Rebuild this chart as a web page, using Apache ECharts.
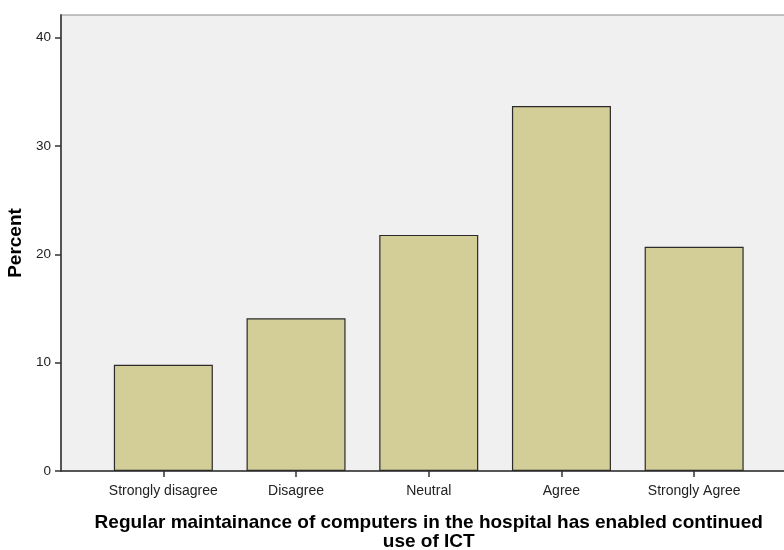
<!DOCTYPE html>
<html>
<head>
<meta charset="utf-8">
<script src="https://cdn.jsdelivr.net/npm/echarts@6/dist/echarts.min.js"></script>
<style>
html,body{margin:0;padding:0;background:#fff;}
#chart{width:784px;height:550px;}
</style>
</head>
<body>
<div id="chart"></div>
<script>
const categories = ["Strongly disagree", "Disagree", "Neutral", "Agree", "Strongly Agree"];
const percentValues = [9.8, 14.1, 21.8, 33.7, 20.7];
const yTicks = [0, 10, 20, 30, 40];
const xTitle = "Regular maintainance of computers in the hospital has enabled continued\nuse of ICT";
const yTitle = "Percent";

const font = "'Liberation Sans', Arial, sans-serif";
const yMax = 42.1;

const chart = echarts.init(document.getElementById('chart'), null, {renderer: 'canvas'});
chart.setOption({
  backgroundColor: '#ffffff',
  animation: false,
  grid: [
    {left: 61, right: -10, top: 15, bottom: 79, containLabel: false, outerBoundsMode: 'none',
     show: true, backgroundColor: '#f0f0f0', borderColor: '#8a8a8a', borderWidth: 1},
    {left: 97, width: 663.5, top: 15, bottom: 79, containLabel: false, outerBoundsMode: 'none'}
  ],
  xAxis: [
    {gridIndex: 0, type: 'value', min: 0, max: 1,
     axisLine: {show: true, onZero: false, lineStyle: {color: '#333', width: 1.5}},
     axisTick: {show: false}, axisLabel: {show: false}, splitLine: {show: false}},
    {gridIndex: 1, type: 'category', data: categories,
     axisLine: {show: false},
     axisTick: {show: true, alignWithLabel: true, interval: 0, length: 6, lineStyle: {color: '#333', width: 1.5}},
     axisLabel: {fontFamily: font, fontSize: 14, color: '#222', margin: 13, interval: 0, hideOverlap: false},
     name: xTitle, nameLocation: 'middle', nameGap: 42,
     nameTextStyle: {fontFamily: font, fontSize: 19, fontWeight: 'bold', color: '#000', lineHeight: 19}}
  ],
  yAxis: [
    {gridIndex: 0, type: 'value', min: yTicks[0], max: yMax, interval: yTicks[1] - yTicks[0],
     axisLine: {show: true, lineStyle: {color: '#555', width: 2}},
     axisTick: {show: true, length: 6, lineStyle: {color: '#333', width: 1.5}},
     axisLabel: {fontFamily: font, fontSize: 13.5, color: '#222', margin: 10, showMaxLabel: false,
       formatter: v => yTicks.includes(v) ? String(v) : ''},
     splitLine: {show: false},
     name: yTitle, nameLocation: 'middle', nameGap: 26, nameRotate: 90,
     nameTextStyle: {fontFamily: font, fontSize: 19, fontWeight: 'bold', color: '#000'}},
    {gridIndex: 1, type: 'value', min: 0, max: yMax, show: false}
  ],
  series: [{
    type: 'bar', xAxisIndex: 1, yAxisIndex: 1,
    data: percentValues, barWidth: 99,
    itemStyle: {color: '#d3ce97', borderColor: '#2b2b2b', borderWidth: 1.2}
  }]
});
</script>
</body>
</html>
